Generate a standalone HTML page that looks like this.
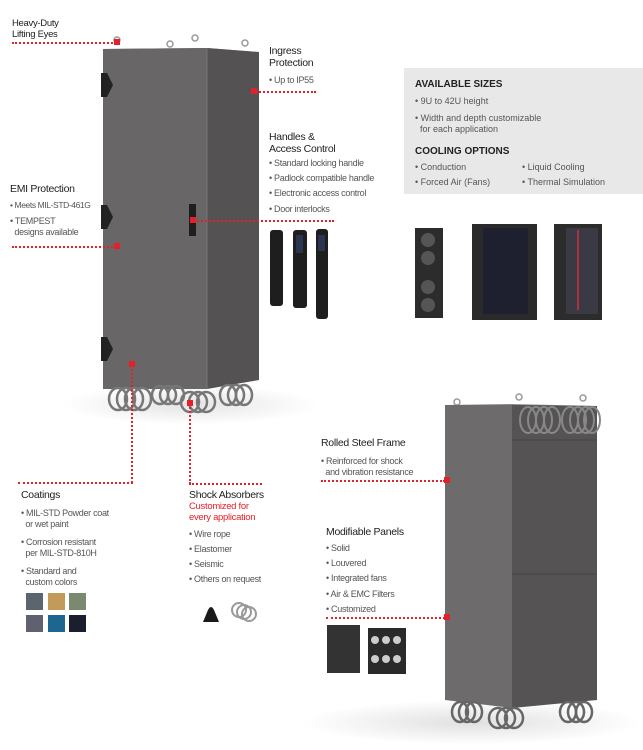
<!DOCTYPE html>
<html><head><meta charset="utf-8">
<style>
*{margin:0;padding:0;box-sizing:border-box}
body{width:643px;height:750px;background:#fff;position:relative;overflow:hidden;font-family:"Liberation Sans",sans-serif;color:#333}
.t{position:absolute;font-size:10.5px;line-height:12px;color:#222;white-space:nowrap;letter-spacing:-0.3px}
.b{position:absolute;font-size:9px;line-height:11px;color:#555;white-space:nowrap;letter-spacing:-0.3px}
.r{color:#e4202a}
.hl{position:absolute;border-top:2px dotted #e4202a;height:0}
.vl{position:absolute;border-left:2px dotted #e4202a;width:0}
.dot{position:absolute;width:6px;height:6px;background:#e4202a}
.bx{position:absolute;background:#e8e8e8}
.bh{position:absolute;font-size:10px;font-weight:bold;color:#222}
.g{position:absolute;font-size:9px;line-height:11px;color:#555;white-space:nowrap}
.sw{position:absolute;width:17px;height:17px}
svg{position:absolute}
</style></head><body>

<div style="position:absolute;left:60px;top:385px;width:260px;height:40px;border-radius:50%;background:radial-gradient(ellipse,#e4e4e4,#fff 70%)"></div>
<div style="position:absolute;left:300px;top:700px;width:343px;height:45px;border-radius:50%;background:radial-gradient(ellipse,#e0e0e0,#fff 70%)"></div>

<svg style="left:0;top:0" width="643" height="750">
  <g fill="none" stroke="#999" stroke-width="1.5">
    <circle cx="117" cy="40" r="3"/><circle cx="170" cy="44" r="3"/><circle cx="195" cy="38" r="3"/><circle cx="245" cy="43" r="3"/>
  </g>
  <polygon points="103,49 207,48 259,52 103,49" fill="#888"/>
  <polygon points="103,49 207,48 207,389 103,389" fill="#686666"/>
  <polygon points="207,48 259,52 259,380 207,389" fill="#545252"/>
  <line x1="207" y1="48" x2="207" y2="389" stroke="#777" stroke-width="1"/>
  <g fill="#222"><path d="M101,73 h6 l6,12 l-6,12 h-6z"/><path d="M101,205 h6 l6,12 l-6,12 h-6z"/><path d="M101,337 h6 l6,12 l-6,12 h-6z"/></g>
  <rect x="189" y="204" width="7" height="32" fill="#1e1e1e"/>
  <g fill="none" stroke="#777" stroke-width="2.5">
    <ellipse cx="118" cy="399" rx="9" ry="11"/><ellipse cx="126" cy="399" rx="9" ry="11"/><ellipse cx="134" cy="399" rx="9" ry="11"/><ellipse cx="142" cy="399" rx="9" ry="11"/>
    <ellipse cx="160" cy="395" rx="8" ry="9"/><ellipse cx="168" cy="395" rx="8" ry="9"/><ellipse cx="176" cy="395" rx="8" ry="9"/>
    <ellipse cx="190" cy="402" rx="9" ry="10"/><ellipse cx="198" cy="402" rx="9" ry="10"/><ellipse cx="206" cy="402" rx="9" ry="10"/>
    <ellipse cx="228" cy="395" rx="8" ry="10"/><ellipse cx="236" cy="395" rx="8" ry="10"/><ellipse cx="244" cy="395" rx="8" ry="10"/>
  </g>
  <rect x="270" y="230" width="13" height="76" rx="3" fill="#1e1e1e"/>
  <rect x="293" y="230" width="14" height="78" rx="3" fill="#1e1e1e"/><rect x="296" y="235" width="7" height="18" fill="#2a3550"/>
  <rect x="316" y="229" width="12" height="90" rx="3" fill="#1e1e1e"/><rect x="318" y="235" width="7" height="16" fill="#2a3550"/>
  <rect x="415" y="228" width="28" height="90" fill="#2c2c2c"/>
  <g fill="#555"><circle cx="428" cy="240" r="7"/><circle cx="428" cy="258" r="7"/><circle cx="428" cy="287" r="7"/><circle cx="428" cy="305" r="7"/></g>
  <rect x="472" y="224" width="65" height="96" fill="#2a2a2a"/><rect x="483" y="228" width="45" height="86" fill="#1e2030"/>
  <rect x="554" y="224" width="48" height="96" fill="#2c2c2c"/><rect x="566" y="228" width="32" height="86" fill="#3a3a44"/><line x1="578" y1="230" x2="578" y2="310" stroke="#b03040" stroke-width="2"/>
  <g fill="none" stroke="#999" stroke-width="1.5"><circle cx="457" cy="402" r="3"/><circle cx="519" cy="397" r="3"/><circle cx="583" cy="398" r="3"/></g>
  <polygon points="445,405 512,404 597,406 512,407" fill="#888"/>
  <polygon points="445,405 512,405 512,708 445,700" fill="#6d6b6b"/>
  <polygon points="512,405 597,406 597,700 512,708" fill="#555353"/>
  <line x1="512" y1="440" x2="597" y2="440" stroke="#444"/><line x1="512" y1="574" x2="597" y2="574" stroke="#444"/>
  <g fill="none" stroke="#888" stroke-width="2">
    <ellipse cx="528" cy="420" rx="8" ry="13"/><ellipse cx="536" cy="420" rx="8" ry="13"/><ellipse cx="544" cy="420" rx="8" ry="13"/><ellipse cx="552" cy="420" rx="8" ry="13"/>
    <ellipse cx="570" cy="420" rx="8" ry="13"/><ellipse cx="578" cy="420" rx="8" ry="13"/><ellipse cx="586" cy="420" rx="8" ry="13"/><ellipse cx="592" cy="420" rx="8" ry="13"/>
  </g>
  <g fill="none" stroke="#666" stroke-width="2.5">
    <ellipse cx="460" cy="712" rx="8" ry="10"/><ellipse cx="467" cy="712" rx="8" ry="10"/><ellipse cx="474" cy="712" rx="8" ry="10"/>
    <ellipse cx="498" cy="718" rx="9" ry="10"/><ellipse cx="506" cy="718" rx="9" ry="10"/><ellipse cx="514" cy="718" rx="9" ry="10"/>
    <ellipse cx="568" cy="712" rx="8" ry="10"/><ellipse cx="576" cy="712" rx="8" ry="10"/><ellipse cx="584" cy="712" rx="8" ry="10"/>
  </g>
  <rect x="327" y="625" width="33" height="48" fill="#333"/>
  <rect x="368" y="628" width="38" height="46" fill="#2a2a2a"/>
  <g fill="#ccc"><circle cx="375" cy="640" r="4"/><circle cx="386" cy="640" r="4"/><circle cx="397" cy="640" r="4"/><circle cx="375" cy="659" r="4"/><circle cx="386" cy="659" r="4"/><circle cx="397" cy="659" r="4"/></g>
  <path d="M203,622 l5,-12 q3,-6 6,0 l5,12z" fill="#1a1a1a"/>
  <g fill="none" stroke="#999" stroke-width="2"><ellipse cx="239" cy="610" rx="7" ry="7"/><ellipse cx="244" cy="612" rx="7" ry="7"/><ellipse cx="249" cy="614" rx="7" ry="7"/></g>
</svg>

<div class="hl" style="left:12px;top:42px;width:104px"></div><div class="dot" style="left:114px;top:39px"></div>
<div class="hl" style="left:256px;top:91px;width:60px"></div><div class="dot" style="left:251px;top:88px"></div>
<div class="hl" style="left:194px;top:220px;width:140px"></div><div class="dot" style="left:190px;top:217px"></div>
<div class="hl" style="left:12px;top:246px;width:104px"></div><div class="dot" style="left:114px;top:243px"></div>
<div class="dot" style="left:129px;top:361px"></div><div class="vl" style="left:131px;top:365px;height:118px"></div><div class="hl" style="left:18px;top:482px;width:115px"></div>
<div class="dot" style="left:187px;top:400px"></div><div class="vl" style="left:189px;top:404px;height:80px"></div><div class="hl" style="left:189px;top:483px;width:73px"></div>
<div class="hl" style="left:321px;top:480px;width:124px"></div><div class="dot" style="left:444px;top:477px"></div>
<div class="hl" style="left:326px;top:617px;width:119px"></div><div class="dot" style="left:444px;top:614px"></div>

<div class="t" style="left:12px;top:18px;font-size:9.5px;line-height:11px">Heavy-Duty<br>Lifting Eyes</div>
<div class="t" style="left:269px;top:45px">Ingress<br>Protection</div>
<div class="b" style="left:269px;top:75px">• Up to IP55</div>
<div class="t" style="left:269px;top:131px">Handles &amp;<br>Access Control</div>
<div class="b" style="left:269px;top:158px">• Standard locking handle</div>
<div class="b" style="left:269px;top:173px">• Padlock compatible handle</div>
<div class="b" style="left:269px;top:188px">• Electronic access control</div>
<div class="b" style="left:269px;top:204px">• Door interlocks</div>
<div class="t" style="left:10px;top:183px">EMI Protection</div>
<div class="b" style="left:10px;top:200px;font-size:8.5px;letter-spacing:-0.4px">• Meets MIL-STD-461G</div>
<div class="b" style="left:10px;top:216px">• TEMPEST<br>&nbsp;&nbsp;designs available</div>

<div class="bx" style="left:404px;top:68px;width:239px;height:126px"></div>
<div class="bh" style="left:415px;top:79px">AVAILABLE SIZES</div>
<div class="g" style="left:415px;top:96px">• 9U to 42U height</div>
<div class="g" style="left:415px;top:113px">• Width and depth customizable<br>&nbsp;&nbsp;for each application</div>
<div class="bh" style="left:415px;top:146px">COOLING OPTIONS</div>
<div class="g" style="left:415px;top:162px">• Conduction</div>
<div class="g" style="left:415px;top:177px">• Forced Air (Fans)</div>
<div class="g" style="left:522px;top:162px">• Liquid Cooling</div>
<div class="g" style="left:522px;top:177px">• Thermal Simulation</div>

<div class="t" style="left:321px;top:437px">Rolled Steel Frame</div>
<div class="b" style="left:321px;top:456px">• Reinforced for shock<br>&nbsp;&nbsp;and vibration resistance</div>
<div class="t" style="left:326px;top:526px">Modifiable Panels</div>
<div class="b" style="left:326px;top:543px">• Solid</div>
<div class="b" style="left:326px;top:558px">• Louvered</div>
<div class="b" style="left:326px;top:573px">• Integrated fans</div>
<div class="b" style="left:326px;top:589px">• Air &amp; EMC Filters</div>
<div class="b" style="left:326px;top:604px">• Customized</div>

<div class="t" style="left:21px;top:489px">Coatings</div>
<div class="b" style="left:21px;top:508px">• MIL-STD Powder coat<br>&nbsp;&nbsp;or wet paint</div>
<div class="b" style="left:21px;top:537px">• Corrosion resistant<br>&nbsp;&nbsp;per MIL-STD-810H</div>
<div class="b" style="left:21px;top:566px">• Standard and<br>&nbsp;&nbsp;custom colors</div>
<div class="sw" style="left:26px;top:593px;background:#5a6570"></div>
<div class="sw" style="left:48px;top:593px;background:#c49a5a"></div>
<div class="sw" style="left:69px;top:593px;background:#7a8a70"></div>
<div class="sw" style="left:26px;top:615px;background:#5f6070"></div>
<div class="sw" style="left:48px;top:615px;background:#1e6690"></div>
<div class="sw" style="left:69px;top:615px;background:#1a1e2e"></div>

<div class="t" style="left:189px;top:489px">Shock Absorbers</div>
<div class="t r" style="left:189px;top:501px;font-size:9.5px;line-height:11px">Customized for<br>every application</div>
<div class="b" style="left:189px;top:529px">• Wire rope</div>
<div class="b" style="left:189px;top:544px">• Elastomer</div>
<div class="b" style="left:189px;top:559px">• Seismic</div>
<div class="b" style="left:189px;top:574px">• Others on request</div>
</body></html>
